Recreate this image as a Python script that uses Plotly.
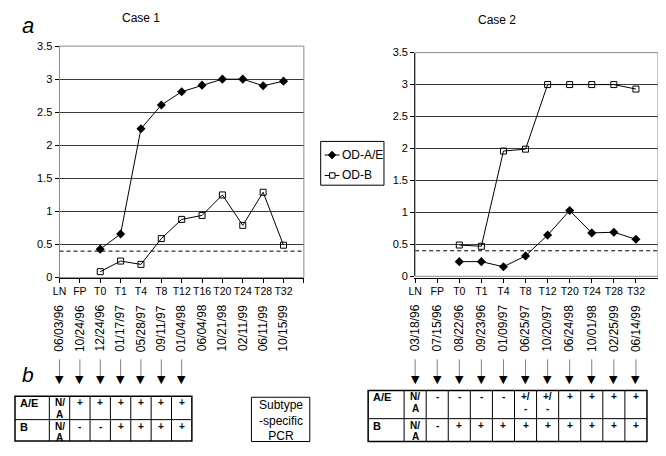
import plotly.graph_objects as go

# page body has an 8px default margin, so the figure is sized to fit the 666x456 window
OFF = 8
FW, FH = 650, 440

# ---------------- data ----------------
cats1 = ["LN", "FP", "T0", "T1", "T4", "T8", "T12", "T16", "T20", "T24", "T28", "T32"]
dates1 = ["06/03/96", "10/24/96", "12/24/96", "01/17/97", "05/28/97", "09/11/97",
          "01/04/98", "06/04/98", "10/21/98", "02/11/99", "06/11/99", "10/15/99"]
od_ae1 = [None, None, 0.43, 0.66, 2.25, 2.61, 2.81, 2.91, 3.0, 3.0, 2.9, 2.97]
od_b1 = [None, None, 0.09, 0.25, 0.2, 0.59, 0.88, 0.94, 1.25, 0.79, 1.29, 0.49]

cats2 = ["LN", "FP", "T0", "T1", "T4", "T8", "T12", "T20", "T24", "T28", "T32"]
dates2 = ["03/18/96", "07/15/96", "08/22/96", "09/23/96", "01/09/97", "06/25/97",
          "10/20/97", "06/24/98", "10/01/98", "02/25/99", "06/14/99"]
od_ae2 = [None, None, 0.23, 0.23, 0.15, 0.32, 0.645, 1.03, 0.68, 0.69, 0.58]
od_b2 = [None, None, 0.49, 0.47, 1.96, 1.99, 3.0, 3.0, 3.0, 3.0, 2.93]

cutoff = 0.4
yticks = [0, 0.5, 1, 1.5, 2, 2.5, 3, 3.5]
series_names = ["OD-A/E", "OD-B"]

pcr_rows = ["A/E", "B"]
pcr1_ae = ["N/<br>A", "+", "+", "+", "+", "+", "+"]
pcr1_b = ["N/<br>A", "-", "-", "+", "+", "+", "+"]
pcr2_ae = ["N/<br>A", "-", "-", "-", "-", "+/<br>-", "+/<br>-", "+", "+", "+", "+"]
pcr2_b = ["N/<br>A", "-", "+", "+", "+", "+", "+", "+", "+", "+", "+"]

# ---------------- layout constants (window pixels) ----------------
FONT = "Liberation Sans, Arial, sans-serif"
P1 = dict(x0=53, x1=300, y0=41, y1=279)          # case 1 plot area
P2 = dict(x0=412.5, x1=658, y0=47.7, y1=277.7)   # case 2 plot area


def px(v):
    return min(max((v - OFF) / FW, 0), 1)


def py(v):
    return min(max(1 - (v - OFF) / FH, 0), 1)


def cat_px(P, n, i):
    return P["x0"] + i * (P["x1"] - P["x0"]) / n


fig = go.Figure()

ae_style = dict(mode="lines+markers", line=dict(color="black", width=1),
                marker=dict(symbol="diamond", size=7, color="black"), showlegend=False)
b_style = dict(mode="lines+markers", line=dict(color="black", width=1),
               marker=dict(symbol="square-open", size=6, color="black",
                           line=dict(width=1)), showlegend=False)

x1 = list(range(len(cats1)))
x2 = list(range(len(cats2)))
fig.add_trace(go.Scatter(x=x1, y=od_ae1, name=series_names[0], xaxis="x", yaxis="y", **ae_style))
fig.add_trace(go.Scatter(x=x1, y=od_b1, name=series_names[1], xaxis="x", yaxis="y", **b_style))
fig.add_trace(go.Scatter(x=x2, y=od_ae2, name=series_names[0], xaxis="x2", yaxis="y2", **ae_style))
fig.add_trace(go.Scatter(x=x2, y=od_b2, name=series_names[1], xaxis="x2", yaxis="y2", **b_style))


def xaxis(P, cats):
    n = len(cats)
    return dict(domain=[px(P["x0"]), px(P["x1"])], range=[0, n],
                tickvals=list(range(n + 1)), ticktext=cats + [""], tickangle=0,
                showgrid=False, zeroline=False, showline=True, linecolor="black",
                linewidth=1, ticks="outside", ticklen=4, tickcolor="black",
                tickfont=dict(family=FONT, size=10.5, color="black"), fixedrange=True)


def yaxis(P, anchor):
    return dict(domain=[py(P["y1"]), py(P["y0"])], range=[0, 3.5], tickvals=yticks,
                ticktext=[("%g" % v) for v in yticks], showgrid=True,
                gridcolor="#3a3a3a", gridwidth=1, zeroline=False, showline=True,
                linecolor="black", ticks="outside", ticklen=4, tickcolor="black",
                tickfont=dict(family=FONT, size=11, color="black"), anchor=anchor,
                fixedrange=True)


shapes = []
annotations = []


def cell_text(text, xr, x, top, size=10):
    for k, part in enumerate(text.split("<br>")):
        annotations.append(dict(text="<b>%s</b>" % part, xref=xr, yref="paper", x=x,
                                y=py(top + 12 * k), xanchor="center", yanchor="top",
                                showarrow=False,
                                font=dict(family=FONT, size=size, color="black")))


for P, cats, dates, xr, yr, rows in [
    (P1, cats1, dates1, "x", "y", (pcr1_ae, pcr1_b)),
    (P2, cats2, dates2, "x2", "y2", (pcr2_ae, pcr2_b)),
]:
    n = len(cats)
    shapes.append(dict(type="rect", xref=xr + " domain", yref=yr + " domain",
                       x0=0, x1=1, y0=0, y1=1, line=dict(color="#8a8a8a", width=1),
                       layer="above"))
    shapes.append(dict(type="line", xref=xr, yref=yr, x0=0, x1=n, y0=cutoff, y1=cutoff,
                       line=dict(color="black", width=1, dash="4px,3px")))
    for i, d in enumerate(dates):
        annotations.append(dict(text=d, xref=xr, yref="paper", x=i, y=py(331),
                                xanchor="center", yanchor="middle", textangle=-90,
                                showarrow=False,
                                font=dict(family=FONT, size=12, color="black")))
    ae_row, b_row = rows
    ncol = len(ae_row)
    for i in range(ncol):
        annotations.append(dict(text="", xref=xr, yref="paper", x=i, y=py(381),
                                ax=0, ay=-19, showarrow=True, arrowhead=0,
                                arrowwidth=1, arrowcolor="#808080"))
        annotations.append(dict(text="▼", xref=xr, yref="paper", x=i, y=py(384),
                                xanchor="center", yanchor="middle", showarrow=False,
                                font=dict(family="DejaVu Sans", size=11, color="black")))

    if P is P1:
        tl, tt, tm, tb = 8, 401, 425, 447
    else:
        tl, tt, tm, tb = 365, 395, 424, 447.5
    tr = cat_px(P, n, ncol - 0.5)
    shapes.append(dict(type="rect", xref="paper", yref="paper", x0=px(tl), x1=px(tr),
                       y0=py(tb), y1=py(tt), line=dict(color="black", width=1.5)))
    shapes.append(dict(type="line", xref="paper", yref="paper", x0=px(tl), x1=px(tr),
                       y0=py(tm), y1=py(tm), line=dict(color="black", width=1)))
    for i in range(ncol):
        bx = cat_px(P, n, i - 0.5)
        shapes.append(dict(type="line", xref="paper", yref="paper", x0=px(bx), x1=px(bx),
                           y0=py(tb), y1=py(tt), line=dict(color="black", width=1)))
    for r, (lab, row) in enumerate(zip(pcr_rows, rows)):
        top = (tt if r == 0 else tm) - 1
        annotations.append(dict(text="<b>%s</b>" % lab, xref="paper", yref="paper",
                                x=px(tl + 3), y=py(top), xanchor="left", yanchor="top",
                                showarrow=False,
                                font=dict(family=FONT, size=11, color="black")))
        for i, v in enumerate(row):
            cell_text(v, xr, i, top)

# legend (drawn box)
LG = dict(x0=317, x1=381, y0=139, y1=184)
shapes.append(dict(type="rect", xref="paper", yref="paper", x0=px(LG["x0"]), x1=px(LG["x1"]),
                   y0=py(LG["y1"]), y1=py(LG["y0"]), line=dict(color="black", width=1)))
for k, name in enumerate(series_names):
    yy = 153 + 21 * k
    shapes.append(dict(type="line", xref="paper", yref="paper", x0=px(321), x1=px(336),
                       y0=py(yy), y1=py(yy), line=dict(color="black", width=1)))
    if k == 0:
        d = 3.8
        path = "M %f %f L %f %f L %f %f L %f %f Z" % (
            px(328.5 - d), py(yy), px(328.5), py(yy - d), px(328.5 + d), py(yy),
            px(328.5), py(yy + d))
        shapes.append(dict(type="path", xref="paper", yref="paper", path=path,
                           fillcolor="black", line=dict(color="black", width=1)))
    else:
        shapes.append(dict(type="rect", xref="paper", yref="paper", x0=px(326), x1=px(331.5),
                           y0=py(yy + 2.75), y1=py(yy - 2.75), fillcolor="white",
                           line=dict(color="black", width=1)))
    annotations.append(dict(text=name, xref="paper", yref="paper", x=px(337), y=py(yy),
                            xanchor="left", yanchor="middle", showarrow=False,
                            font=dict(family=FONT, size=12, color="black")))

# titles and panel letters
annotations += [
    dict(text="Case 1", xref="paper", yref="paper", x=px(135), y=py(12),
         xanchor="center", yanchor="middle", showarrow=False,
         font=dict(family=FONT, size=12, color="black")),
    dict(text="Case 2", xref="paper", yref="paper", x=px(495), y=py(14),
         xanchor="center", yanchor="middle", showarrow=False,
         font=dict(family=FONT, size=12, color="black")),
    dict(text="<i>a</i>", xref="paper", yref="paper", x=px(21), y=py(20),
         xanchor="center", yanchor="middle", showarrow=False,
         font=dict(family=FONT, size=22, color="black")),
    dict(text="<i>b</i>", xref="paper", yref="paper", x=px(21), y=py(379),
         xanchor="center", yanchor="middle", showarrow=False,
         font=dict(family=FONT, size=21, color="black")),
    dict(text="Subtype<br>-specific<br>PCR", xref="paper", yref="paper", x=px(276.5),
         y=py(425.5), xanchor="center", yanchor="middle", showarrow=False,
         font=dict(family=FONT, size=12, color="black")),
]
shapes.append(dict(type="rect", xref="paper", yref="paper", x0=px(247), x1=px(306),
                   y0=py(447.5), y1=py(402), line=dict(color="black", width=1)))

fig.update_layout(
    width=FW, height=FH, margin=dict(l=0, r=0, t=0, b=0),
    paper_bgcolor="white", plot_bgcolor="white",
    xaxis=xaxis(P1, cats1), yaxis=yaxis(P1, "x"),
    xaxis2=xaxis(P2, cats2), yaxis2=yaxis(P2, "x2"),
    shapes=shapes, annotations=annotations,
    showlegend=False,
)

fig.write_html("out.html")
